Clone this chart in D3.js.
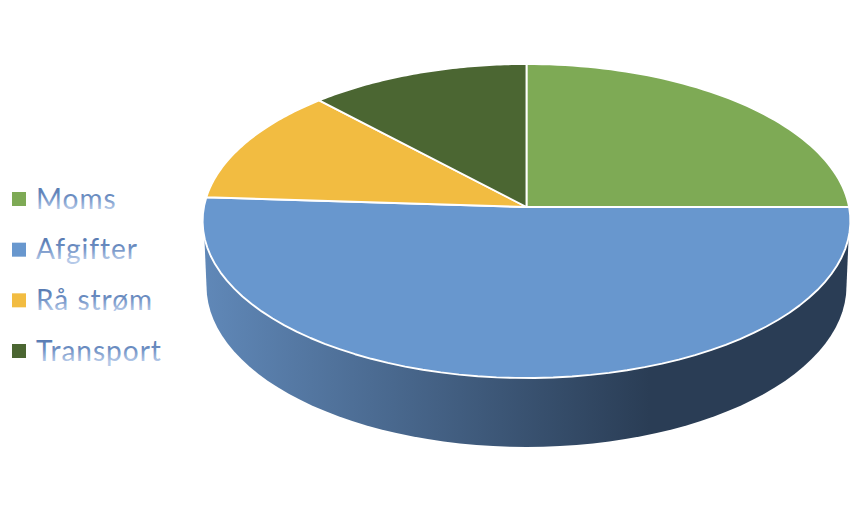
<!DOCTYPE html>
<html><head><meta charset="utf-8">
<script src="https://cdn.jsdelivr.net/npm/d3@7"></script>
<style>html,body{margin:0;padding:0;background:#fff}svg{display:block}</style>
</head><body><svg id="c" width="862" height="512"></svg>
<script>
const categories = ["Moms","Afgifter","Rå strøm","Transport"];
const values = [25,51,12,12];
const colors = ["#7eaa55","#6897ce","#f2bc41","#4b6632"];

const svg = d3.select("#c");
const defs = svg.append("defs");

// Perspective projection of the pie's unit disc
const apex = {x:526.5,y:207}, k=-0.0892, a=322.6, b=155.75;
const project = t => { // t: clockwise from 12 o'clock
  const u=Math.sin(t), v=-Math.cos(t), s=1+k*v;
  return [apex.x+a*u/s, apex.y+b*v/s];
};
const lowerRim = {x:526.5,y:286,rx:320,ry:161};
const projectLower = t => [lowerRim.x+lowerRim.rx*Math.sin(t), lowerRim.y-lowerRim.ry*Math.cos(t)];

const arcs = d3.pie().sort(null)(values);
const line = d3.line();
const sampleArc = (s,e,f) => d3.range(0,61).map(i=>f(s+(e-s)*i/60));

// side wall
const sideGrad = defs.append("linearGradient").attr("id","side").attr("gradientUnits","userSpaceOnUse")
  .attr("x1",203).attr("x2",650).attr("y1",0).attr("y2",0);
[[0,"#6088b8"],[1,"#2a3d55"]].forEach(([o,c])=>sideGrad.append("stop").attr("offset",o).attr("stop-color",c));
const rad = d=>d*Math.PI/180;
const wall = [project(rad(259)),...sampleArc(rad(270),rad(90),projectLower),project(rad(101))];
svg.append("path").attr("d",line(wall)+"Z").attr("fill","url(#side)");

// top slices
svg.append("g").selectAll("path").data(arcs).join("path")
  .attr("d",d=>line([[apex.x,apex.y],...sampleArc(d.startAngle,d.endAngle,project)])+"Z")
  .attr("fill",(d,i)=>colors[i])
  .attr("stroke","#fff").attr("stroke-width",1.9).attr("stroke-linejoin","round");

// legend
const textGrad = defs.append("linearGradient").attr("id","txt").attr("x1",0).attr("x2",0).attr("y1",0).attr("y2",1);
[[0.1,"#4f72ab"],[0.5,"#6f90c4"],[0.85,"#b5c9e8"]].forEach(([o,c])=>textGrad.append("stop").attr("offset",o).attr("stop-color",c));
const ly = d3.scalePoint().domain(categories).range([199,351]);
const lg = svg.append("g").selectAll("g").data(categories).join("g").attr("transform",d=>`translate(0,${ly(d)})`);
lg.append("rect").attr("x",12).attr("y",-7).attr("width",14).attr("height",14).attr("fill",(d,i)=>colors[i]);
lg.append("text").attr("x",36).attr("y",9.5).text(d=>d)
  .attr("font-family","Lato, Carlito, sans-serif").attr("font-size",28).attr("letter-spacing",1)
  .attr("fill","url(#txt)");
</script></body></html>
